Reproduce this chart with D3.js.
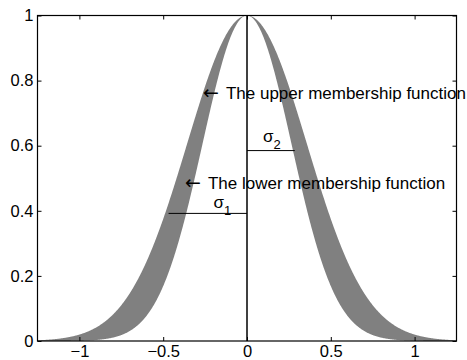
<!DOCTYPE html>
<html>
<head>
<meta charset="utf-8">
<script src="https://cdn.jsdelivr.net/npm/d3@7"></script>
<style>
  html, body { margin: 0; padding: 0; background: #fff; }
  svg text { font-family: "Liberation Sans", Arial, sans-serif; fill: #000; }
</style>
</head>
<body>
<svg id="chart" width="467" height="360"></svg>
<script>
// Interval type-2 Gaussian membership function with uncertain width
const center = [0];
const sigmas = [0.265, 0.357];          // [lower (sigma1), upper (sigma2)]
const xDomain = [-1.25, 1.25];
const yDomain = [0, 1];
const xTicks = [-1, -0.5, 0, 0.5, 1];
const xTickLabels = ["\u22121", "\u22120.5", "0", "0.5", "1"];
const yTicks = [0, 0.2, 0.4, 0.6, 0.8, 1];
const yTickLabels = ["0", "0.2", "0.4", "0.6", "0.8", "1"];

// width markers: [x start, x end, membership level]
const sigma1Marker = [-0.468, 0, 0.392];
const sigma2Marker = [0, 0.285, 0.585];

// annotations: [x, y] anchor in data units
const upperLabelAt = [-0.263, 0.745];
const lowerLabelAt = [-0.37, 0.468];
const sigma1LabelAt = [-0.2, 0.41];
const sigma2LabelAt = [0.095, 0.61];

const svg = d3.select("#chart");
const plotLeft = 37.5, plotRight = 456.5, plotTop = 15.5, plotBottom = 341;

const x = d3.scaleLinear().domain(xDomain).range([plotLeft, plotRight]);
const y = d3.scaleLinear().domain(yDomain).range([plotBottom, plotTop]);

const gauss = (v, s) => Math.exp(-((v - center[0]) ** 2) / (2 * s * s));
const samples = d3.range(xDomain[0], xDomain[1] + 1e-9, 0.0025);

// footprint of uncertainty between the lower and upper membership functions
svg.append("path")
  .datum(samples)
  .attr("fill", "#808080")
  .attr("stroke", "none")
  .attr("d", d3.area()
    .x(d => x(d))
    .y0(d => y(gauss(d, sigmas[0])))
    .y1(d => y(gauss(d, sigmas[1]))));

// axes with inward ticks on all four sides
const tickLen = 4;
const axFont = "16.5px";
function styleAxis(g) {
  g.select(".domain").remove();
  g.selectAll(".tick line").attr("stroke", "#000");
  g.selectAll(".tick text").style("font-size", axFont).attr("fill", "#000");
}
svg.append("g").attr("transform", `translate(0,${plotBottom})`)
  .call(d3.axisBottom(x).tickValues(xTicks).tickSizeInner(-tickLen).tickSizeOuter(0)
    .tickPadding(4).tickFormat((d, i) => xTickLabels[i]))
  .call(styleAxis);
svg.append("g").attr("transform", `translate(0,${plotTop})`)
  .call(d3.axisTop(x).tickValues(xTicks).tickSizeInner(-tickLen).tickSizeOuter(0).tickFormat(""))
  .call(styleAxis);
svg.append("g").attr("transform", `translate(${plotLeft},0)`)
  .call(d3.axisLeft(y).tickValues(yTicks).tickSizeInner(-tickLen).tickSizeOuter(0)
    .tickPadding(4).tickFormat((d, i) => yTickLabels[i]))
  .call(styleAxis);
svg.append("g").attr("transform", `translate(${plotRight},0)`)
  .call(d3.axisRight(y).tickValues(yTicks).tickSizeInner(-tickLen).tickSizeOuter(0).tickFormat(""))
  .call(styleAxis);

// plot frame
svg.append("rect")
  .attr("x", plotLeft).attr("y", plotTop)
  .attr("width", plotRight - plotLeft).attr("height", plotBottom - plotTop)
  .attr("fill", "none").attr("stroke", "#000").attr("stroke-width", 1.2);

// center line
svg.append("line")
  .attr("x1", x(center[0])).attr("x2", x(center[0]))
  .attr("y1", y(0)).attr("y2", y(1))
  .attr("stroke", "#000").attr("stroke-width", 1.5);

// sigma markers
[sigma1Marker, sigma2Marker].forEach(m => {
  svg.append("line")
    .attr("x1", x(m[0])).attr("x2", x(m[1]))
    .attr("y1", y(m[2])).attr("y2", y(m[2]))
    .attr("stroke", "#000").attr("stroke-width", 1);
});

// annotations: arrow glyph followed by the caption
const annFont = "17px";
function arrowLabel(pos, caption) {
  const px = x(pos[0]), py = y(pos[1]);
  const t = svg.append("text").attr("x", px).attr("y", py).style("font-size", annFont);
  t.append("tspan")
    .style("font-family", "'DejaVu Sans', sans-serif")
    .style("font-size", "19px")
    .text("\u2190");
  t.append("tspan").attr("x", px + 23).text(caption);
}
arrowLabel(upperLabelAt, "The upper membership function");
arrowLabel(lowerLabelAt, "The lower membership function");

function sigmaLabel(pos, sub) {
  const t = svg.append("text")
    .attr("x", x(pos[0])).attr("y", y(pos[1]))
    .style("font-size", annFont);
  t.append("tspan").text("\u03c3");
  t.append("tspan").attr("dy", 7).style("font-size", "13px").text(sub);
}
sigmaLabel(sigma1LabelAt, "1");
sigmaLabel(sigma2LabelAt, "2");
</script>
</body>
</html>
